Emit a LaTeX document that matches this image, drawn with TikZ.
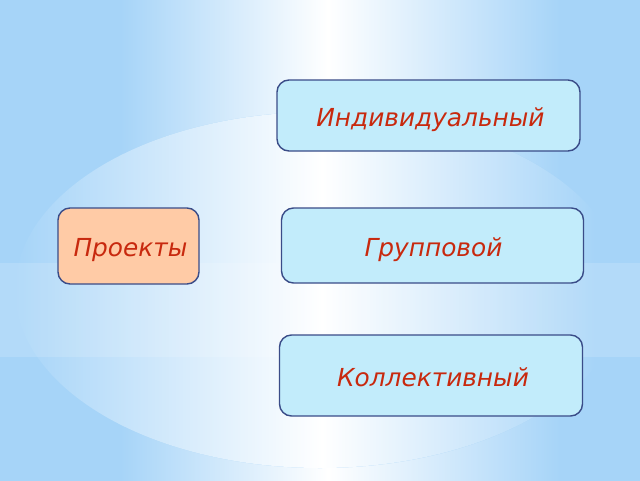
\documentclass[tikz,border=0pt]{standalone}
\usepackage{fontspec}
\setmainfont{DejaVu Sans}
\definecolor{bg}{HTML}{A6D4F8}
\definecolor{boxfill}{HTML}{C2ECFB}
\definecolor{peach}{HTML}{FFCBA6}
\definecolor{boxline}{HTML}{3A4C88}
\definecolor{txtred}{HTML}{C8290E}
\tikzset{
  itembox/.style={draw=boxline, line width=1.4pt, fill=boxfill, rounded corners=12pt,
    inner sep=0pt, text=txtred, font=\itshape\fontsize{24.8}{28}\selectfont,
    text height=21pt, text depth=0pt},
  rootbox/.style={itembox, fill=peach}
}
\begin{document}
\begin{tikzpicture}[x=1pt,y=-1pt]
\useasboundingbox (0,0) rectangle (640,480);
% background
\fill[bg] (-5,-5) rectangle (645,485);
\shade[left color=bg, right color=white] (120,-5) rectangle (328,485);
\shade[left color=white, right color=bg] (328,-5) rectangle (560,485);
\begin{scope}
\clip (320,290) ellipse [x radius=305, y radius=178];
\fill[bg] (-5,-5) rectangle (645,485);
\shade[left color=bg, right color=white] (15,-5) rectangle (322,485);
\shade[left color=white, right color=bg] (322,-5) rectangle (595,485);
\end{scope}
\fill[white, opacity=0.15] (-5,263) rectangle (645,357);
% boxes
\node[rootbox, minimum width=141pt, minimum height=76pt] (proj) at (128.5,246) {\hspace*{4pt}Проекты};
\node[itembox, minimum width=303pt, minimum height=71pt] (ind) at (428.5,115.5) {\hspace*{4pt}Индивидуальный};
\node[itembox, minimum width=302pt, minimum height=75pt] (grp) at (432.5,245.5) {\hspace*{2pt}Групповой};
\node[itembox, minimum width=303pt, minimum height=81pt] (kol) at (431,375.5) {\hspace*{4pt}Коллективный};
\end{tikzpicture}
\end{document}
